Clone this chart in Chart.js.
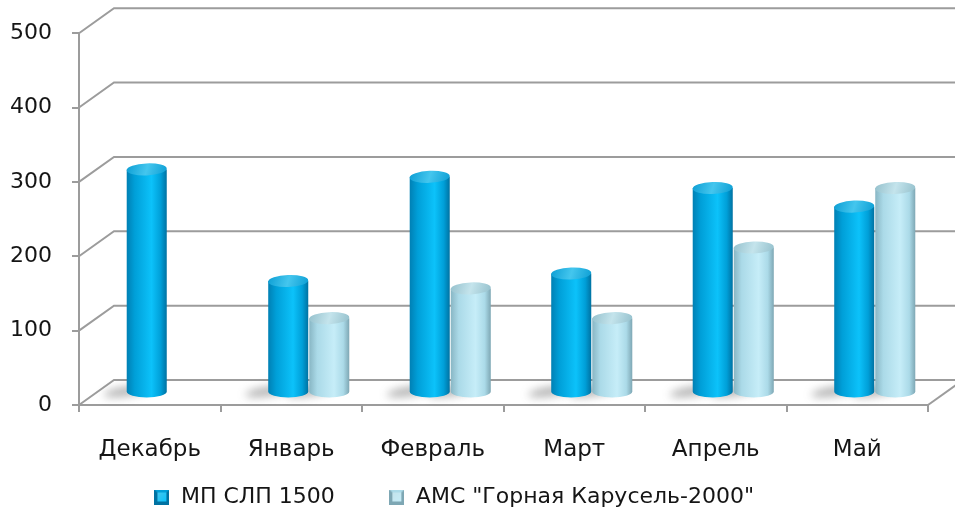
<!DOCTYPE html>
<html lang="ru">
<head>
<meta charset="utf-8">
<script src="https://cdn.jsdelivr.net/npm/chart.js@4.4.1/dist/chart.umd.min.js"></script>
<style>
  html, body { margin: 0; padding: 0; background: #fff; }
  #wrap { width: 955px; height: 515px; }
</style>
</head>
<body>
<div id="wrap"><canvas id="chart" width="955" height="515"></canvas></div>
<script>
const months = ["Декабрь", "Январь", "Февраль", "Март", "Апрель", "Май"];
const mpSlpValues = [300, 150, 290, 160, 275, 250];
const amsValues = [null, 100, 140, 100, 195, 275];
const seriesNames = ["МП СЛП 1500", "АМС \"Горная Карусель-2000\""];

// offset from the front plane to the back wall
const DEPTH_X = 35;
const DEPTH_Y = -25;
const LINE = "#9c9c9c";
const FONT = "DejaVu Sans";
const TEXT = "#151515";
const LEGEND_PAD = 54;

const palettes = [
  { edge: "#0080b4", side: "#009fd8", light: "#0cc2fa", dark: "#0072a2", top0: "#44c6ee", top1: "#0c9ed4" },
  { edge: "#88b6c4", side: "#abdae8", light: "#c6edf8", dark: "#7ea7b4", top0: "#c4e4ec", top1: "#94c0cc" },
];

// bevelled square used as the legend marker
const makeMarker = (p) => {
  const c = document.createElement("canvas");
  c.width = 15;
  c.height = 15;
  const g = c.getContext("2d");
  g.fillStyle = p.dark;
  g.fillRect(0, 0, 15, 15);
  g.fillStyle = p.side;
  g.beginPath();
  g.moveTo(0, 0);
  g.lineTo(15, 0);
  g.lineTo(7.5, 7.5);
  g.closePath();
  g.fill();
  const grad = g.createLinearGradient(3, 3, 12, 12);
  grad.addColorStop(0, p.top0);
  grad.addColorStop(1, p.light);
  g.fillStyle = grad;
  g.fillRect(3, 3, 9, 9);
  return c;
};

const drawCylinder = (ctx, cx, top, base, w, p) => {
  const rx = w / 2;
  const ry = 6;
  const left = cx - rx;
  const body = ctx.createLinearGradient(left, 0, left + w, 0);
  body.addColorStop(0, p.edge);
  body.addColorStop(0.2, p.side);
  body.addColorStop(0.62, p.light);
  body.addColorStop(0.85, p.side);
  body.addColorStop(1, p.dark);
  ctx.fillStyle = body;
  ctx.beginPath();
  ctx.moveTo(left, top);
  ctx.lineTo(left, base);
  ctx.ellipse(cx, base, rx, ry, 0, Math.PI, 0, true);
  ctx.lineTo(left + w, top);
  ctx.closePath();
  ctx.fill();

  const cap = ctx.createLinearGradient(left, top - ry, left + w, top + ry);
  cap.addColorStop(0, p.top1);
  cap.addColorStop(0.5, p.top0);
  cap.addColorStop(1, p.top1);
  ctx.fillStyle = cap;
  ctx.beginPath();
  ctx.ellipse(cx, top, rx, ry, -0.04, 0, Math.PI * 2);
  ctx.fill();
};

const wallsPlugin = {
  id: "walls",
  beforeDatasetsDraw(chart) {
    const { ctx, chartArea, scales } = chart;
    const y = scales.y;
    ctx.save();
    ctx.strokeStyle = LINE;
    ctx.lineWidth = 2;
    y.ticks.forEach((t) => {
      const py = y.getPixelForValue(t.value);
      ctx.beginPath();
      ctx.moveTo(chartArea.left, py);
      ctx.lineTo(chartArea.left + DEPTH_X, py + DEPTH_Y);
      ctx.lineTo(chart.width, py + DEPTH_Y);
      ctx.stroke();
    });
    const floorY = y.getPixelForValue(0);
    ctx.beginPath();
    ctx.moveTo(chartArea.right, floorY);
    ctx.lineTo(chartArea.right + DEPTH_X, floorY + DEPTH_Y);
    ctx.stroke();
    ctx.restore();
  },
};

const cylinderPlugin = {
  id: "cylinders",
  beforeDatasetDraw() {
    return false;
  },
  afterDatasetsDraw(chart) {
    const { ctx } = chart;
    const dx = DEPTH_X / 2;
    const dy = DEPTH_Y / 2;
    const bars = [];
    chart.data.datasets.forEach((ds, i) => {
      chart.getDatasetMeta(i).data.forEach((el, j) => {
        if (ds.data[j] == null) return;
        bars.push({ x: el.x + dx, y: el.y + dy, base: el.base + dy, w: el.width, p: palettes[i] });
      });
    });
    ctx.save();
    // soft shadows on the floor
    ctx.filter = "blur(4px)";
    ctx.fillStyle = "rgba(70,70,70,0.42)";
    bars.forEach((b) => {
      ctx.beginPath();
      ctx.ellipse(b.x - b.w * 0.5, b.base, b.w * 0.55, 4.5, -0.15, 0, Math.PI * 2);
      ctx.fill();
    });
    ctx.filter = "none";
    bars.forEach((b) => drawCylinder(ctx, b.x, b.y, b.base, b.w - 1, b.p));
    ctx.restore();
  },
};

// the wide item gap also pads the legend vertically, so pull the row back up
const legendLift = {
  id: "legendLift",
  afterLayout(chart) {
    const lg = chart.legend;
    const top = chart.scales.x.bottom - 33;
    lg.top = top;
    lg.bottom = top + lg.height;
    lg.left -= 10;
    lg.right -= 10;
  },
};

new Chart(document.getElementById("chart"), {
  type: "bar",
  data: {
    labels: months,
    datasets: [
      { label: seriesNames[0], data: mpSlpValues, backgroundColor: "#00aee6" },
      { label: seriesNames[1], data: amsValues, backgroundColor: "#b4e0ec" },
    ],
  },
  plugins: [wallsPlugin, cylinderPlugin, legendLift],
  options: {
    responsive: false,
    animation: false,
    layout: { padding: { top: 33, right: 27, left: 0, bottom: -36 } },
    datasets: { bar: { categoryPercentage: 0.58, barPercentage: 1 } },
    scales: {
      x: {
        grid: { drawOnChartArea: false, offset: true, color: LINE, lineWidth: 2, tickLength: 7 },
        border: { color: LINE, width: 2 },
        ticks: { font: { family: FONT, size: 23 }, color: TEXT, padding: 24 },
        afterFit: (s) => { s.height = 60; },
      },
      y: {
        min: 0,
        max: 500,
        grid: { drawOnChartArea: false, color: LINE, lineWidth: 2, tickLength: 7 },
        border: { color: LINE, width: 2 },
        ticks: { stepSize: 100, font: { family: FONT, size: 22 }, color: TEXT, padding: 20 },
        afterFit: (s) => { s.width = 79; },
      },
    },
    plugins: {
      tooltip: { enabled: false },
      legend: {
        position: "bottom",
        labels: {
          usePointStyle: true,
          pointStyleWidth: 16,
          font: { family: FONT, size: 22 },
          color: TEXT,
          padding: LEGEND_PAD,
          generateLabels: (chart) =>
            chart.data.datasets.map((ds, i) => ({
              text: ds.label,
              pointStyle: makeMarker(palettes[i]),
              fontColor: TEXT,
              datasetIndex: i,
              lineWidth: 0,
            })),
        },
      },
    },
  },
});
</script>
</body>
</html>
